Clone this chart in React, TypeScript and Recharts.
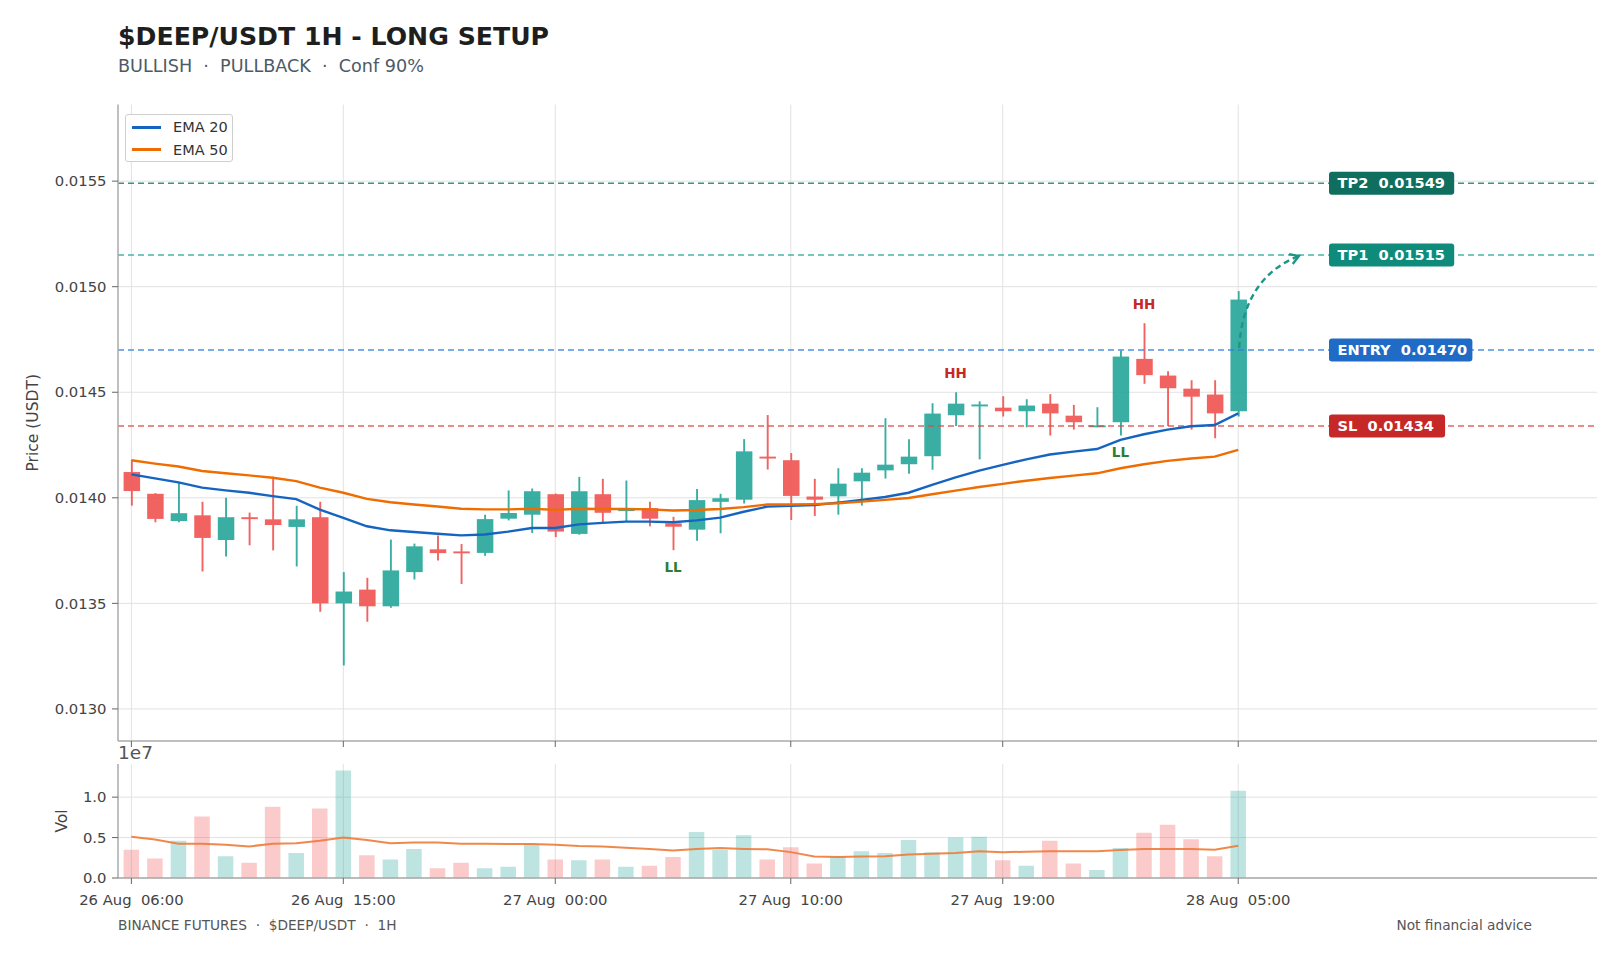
import { Bar, CartesianGrid, Cell, ComposedChart, Legend, Line, ReferenceDot, ReferenceLine, XAxis, YAxis } from 'recharts'

// 1H candles, 26 Aug 06:00 -> 28 Aug 05:00
const times = Array.from({ length: 48 }, (_, i) => {
  const h = 6 + i
  const day = 26 + Math.floor(h / 24)
  const hh = String(h % 24).padStart(2, '0')
  return `${day} Aug\u00a0\u00a0${hh}:00`
})
// empty slots to the right of the last candle
const padSlots = Array.from({ length: 14 }, (_, i) => `pad${48 + i}`)

const opens = [0.014122, 0.014019, 0.01389, 0.013917, 0.0138, 0.013908, 0.013898, 0.013862, 0.013908, 0.0135, 0.013565, 0.013486, 0.013648, 0.013756, 0.013746, 0.013739, 0.013901, 0.01392, 0.014017, 0.013829, 0.014017, 0.013942, 0.013951, 0.013879, 0.013849, 0.013981, 0.013991, 0.014195, 0.014178, 0.014006, 0.014007, 0.014078, 0.01413, 0.014159, 0.014197, 0.014391, 0.014438, 0.014427, 0.01441, 0.014446, 0.014389, 0.014338, 0.014358, 0.014658, 0.014579, 0.014517, 0.014489, 0.01441]
const highs = [0.014179, 0.014022, 0.01407, 0.013981, 0.014, 0.01393, 0.0141, 0.013962, 0.013981, 0.013648, 0.013621, 0.013802, 0.013783, 0.013821, 0.013781, 0.01392, 0.014035, 0.014044, 0.01402, 0.014099, 0.01409, 0.014082, 0.013981, 0.01391, 0.014042, 0.014019, 0.014278, 0.014392, 0.014212, 0.01409, 0.01414, 0.01414, 0.014377, 0.014277, 0.014448, 0.0145, 0.014457, 0.014481, 0.014467, 0.014491, 0.01444, 0.014429, 0.014698, 0.014827, 0.0146, 0.014557, 0.014557, 0.014979]
const lows = [0.013963, 0.013884, 0.013884, 0.013651, 0.013722, 0.013775, 0.013751, 0.013675, 0.01346, 0.013206, 0.013413, 0.013479, 0.013613, 0.013703, 0.013592, 0.013725, 0.013893, 0.013833, 0.013814, 0.013825, 0.013884, 0.01389, 0.013865, 0.013752, 0.013796, 0.013832, 0.013973, 0.014134, 0.013895, 0.013914, 0.01392, 0.013963, 0.014091, 0.014114, 0.014133, 0.01434, 0.014182, 0.014385, 0.014334, 0.014295, 0.014323, 0.014334, 0.014295, 0.01454, 0.01434, 0.014323, 0.014282, 0.014385]
const closes = [0.014032, 0.0139, 0.013927, 0.01381, 0.013908, 0.0139, 0.013871, 0.013898, 0.0135, 0.013556, 0.013486, 0.013656, 0.01377, 0.013738, 0.013738, 0.013899, 0.013928, 0.014031, 0.01384, 0.014031, 0.013929, 0.013946, 0.013901, 0.013863, 0.013989, 0.013998, 0.01422, 0.014187, 0.014009, 0.013991, 0.014067, 0.014119, 0.014157, 0.014195, 0.014399, 0.014446, 0.014442, 0.01441, 0.014437, 0.0144, 0.014358, 0.014343, 0.014669, 0.014581, 0.014519, 0.014479, 0.0144, 0.014939]

const ema20 = [0.014111, 0.014092, 0.014073, 0.014048, 0.014035, 0.014024, 0.014008, 0.013994, 0.013944, 0.013905, 0.013865, 0.013846, 0.013838, 0.01383, 0.013822, 0.013826, 0.01384, 0.013857, 0.013857, 0.013874, 0.013881, 0.013887, 0.013887, 0.013884, 0.013893, 0.013906, 0.013934, 0.013958, 0.013962, 0.013966, 0.013977, 0.01399, 0.014004, 0.014024, 0.014061, 0.014097, 0.014129, 0.014156, 0.014182, 0.014205, 0.014219, 0.014231, 0.014274, 0.014301, 0.014323, 0.014339, 0.014345, 0.0144]
const ema50 = [0.014178, 0.014162, 0.014148, 0.014127, 0.014116, 0.014106, 0.014095, 0.014079, 0.014048, 0.014024, 0.013995, 0.013979, 0.013968, 0.013959, 0.013948, 0.013945, 0.013945, 0.013948, 0.013943, 0.013948, 0.013947, 0.013947, 0.013945, 0.01394, 0.013942, 0.013947, 0.013956, 0.013968, 0.013968, 0.01397, 0.013974, 0.013982, 0.01399, 0.013999, 0.014017, 0.014034, 0.014051, 0.014066, 0.014081, 0.014094, 0.014105, 0.014116, 0.01414, 0.014159, 0.014175, 0.014186, 0.014195, 0.014227]

const volumes = [3500000, 2400000, 4600000, 7600000, 2700000, 1900000, 8800000, 3100000, 8600000, 13300000, 2800000, 2300000, 3600000, 1200000, 1900000, 1200000, 1400000, 4200000, 2300000, 2200000, 2300000, 1400000, 1500000, 2600000, 5700000, 3500000, 5300000, 2300000, 3800000, 1800000, 2700000, 3300000, 3100000, 4700000, 3200000, 5000000, 5100000, 2200000, 1500000, 4600000, 1800000, 1000000, 3700000, 5600000, 6600000, 4800000, 2700000, 10800000]
const volMa = [5100000, 4750000, 4250000, 4250000, 4100000, 3900000, 4250000, 4300000, 4600000, 5000000, 4700000, 4300000, 4400000, 4400000, 4250000, 4250000, 4200000, 4200000, 4100000, 3950000, 3900000, 3750000, 3600000, 3400000, 3600000, 3700000, 3600000, 3550000, 3200000, 2650000, 2600000, 2650000, 2700000, 2900000, 3000000, 3100000, 3300000, 3200000, 3250000, 3300000, 3300000, 3300000, 3450000, 3600000, 3600000, 3600000, 3500000, 4000000]

const priceTicks = [0.013, 0.0135, 0.014, 0.0145, 0.015, 0.0155]
const volTicks = [0, 5000000, 10000000]
const timeTicks = [times[0], times[9], times[18], times[28], times[37], times[47]]

const levelTags = ['TP2  0.01549', 'TP1  0.01515', 'ENTRY  0.01470', 'SL  0.01434']
const levelPrices = [0.01549, 0.01515, 0.0147, 0.01434]

const swingTags = ['LL', 'HH', 'LL', 'HH']
const swingIdx = [23, 35, 42, 43]

const UP = '#26a69a'
const DOWN = '#ef5350'
const levelLine = ['#1b7f6e', '#26a69a', '#2f7be0', '#dc4b48']
const levelBg = ['#0f6e5e', '#0f8b7c', '#1f6bc6', '#c62828']

const categories = [...times, ...padSlots]

const priceData = categories.map((t, i) =>
  i < times.length
    ? { t, open: opens[i], high: highs[i], low: lows[i], close: closes[i], ema20: ema20[i], ema50: ema50[i] }
    : { t },
)

const volData = categories.map((t, i) =>
  i < times.length ? { t, vol: volumes[i], ma: volMa[i], up: closes[i] >= opens[i] } : { t },
)

const Candle = (props: any) => {
  const { x, y, width, height, payload } = props
  if (payload == null || payload.high == null) return null
  const span = payload.high - payload.low
  const toY = (v: number) => y + ((payload.high - v) / span) * height
  const color = payload.close >= payload.open ? UP : DOWN
  const top = toY(Math.max(payload.open, payload.close))
  const bottom = toY(Math.min(payload.open, payload.close))
  const cx = x + width / 2
  return (
    <g opacity={0.9}>
      <line x1={cx} x2={cx} y1={y} y2={y + height} stroke={color} strokeWidth={1.9} />
      <rect x={x} y={top} width={width} height={Math.max(bottom - top, 1.9)} fill={color} />
    </g>
  )
}

const LevelTag = (props: any) => {
  const { viewBox, tag, bg } = props
  const w = tag.length * 9.1 + 16
  const x = viewBox.x + viewBox.width - 268
  const y = viewBox.y
  return (
    <g>
      <rect x={x} y={y - 11.5} width={w} height={23} rx={3} fill={bg} />
      <text x={x + 8.5} y={y + 5.2} fill="#fff" fontSize={14.6} fontWeight="bold" style={{ whiteSpace: 'pre' }}>
        {tag}
      </text>
    </g>
  )
}

const TrendArrow = (props: any) => {
  const { x1, y1, x2, y2 } = props
  const tx = x2 - 10
  const ty = y2 + 1
  const sy = y1 - 2
  const dx = tx - x1
  const dy = sy - ty
  const c1x = x1 + 0.05 * dx
  const c1y = sy - 0.5 * dy
  const c2x = x1 + 0.4 * dx
  const c2y = sy - 0.85 * dy
  const ang = Math.atan2(ty - c2y, tx - c2x)
  const wing = 10
  const a1 = ang + Math.PI - 0.55
  const a2 = ang + Math.PI + 0.55
  const arrowColor = '#1d9686'
  return (
    <g>
      <path d={`M ${x1 + 1} ${sy} C ${c1x} ${c1y} ${c2x} ${c2y} ${tx} ${ty}`} fill="none" stroke={arrowColor} strokeWidth={2.4} strokeDasharray="6 4" />
      <path
        d={`M ${tx + wing * Math.cos(a1)} ${ty + wing * Math.sin(a1)} L ${tx} ${ty} L ${tx + wing * Math.cos(a2)} ${ty + wing * Math.sin(a2)}`}
        fill="none"
        stroke={arrowColor}
        strokeWidth={2.4}
      />
    </g>
  )
}

const AxisTitle = (props: any) => {
  const { viewBox, text, px } = props
  const x = viewBox.x + px
  const cy = viewBox.y + viewBox.height / 2
  return (
    <text x={x} y={cy} transform={`rotate(-90 ${x} ${cy})`} textAnchor="middle" dominantBaseline="central" fontSize={15.5} fill="#444">
      {text}
    </text>
  )
}

const LegendBox = ({ payload }: any) => (
  <div
    style={{
      boxSizing: 'border-box',
      width: 108,
      height: 48,
      paddingTop: 1,
      background: 'rgba(255,255,255,0.9)',
      border: '1px solid #cfcfcf',
      borderRadius: 3,
      fontSize: 14.5,
      color: '#333',
    }}
  >
    {(payload || []).map((p: any) => (
      <div key={p.value} style={{ display: 'flex', alignItems: 'center', height: 22.5 }}>
        <span style={{ display: 'inline-block', width: 29, height: 2.6, background: p.color, marginLeft: 6, marginRight: 12 }} />
        <span>{p.value}</span>
      </div>
    ))}
  </div>
)

const tickStyle = { fill: '#444', fontSize: 14.8 }
const spine = { stroke: '#aaa', strokeWidth: 1.5 }

export default function App() {
  return (
    <div style={{ position: 'absolute', left: 0, top: 0, width: 1621, height: 957, background: '#fff', fontFamily: 'DejaVu Sans, sans-serif' }}>
      <div style={{ position: 'absolute', left: 0, top: 0 }}>
        <ComposedChart width={1621} height={755} data={priceData} margin={{ top: 104.5, right: 24, left: 58, bottom: 0 }}>
          <CartesianGrid stroke="#e2e2e2" syncWithTicks />
          <XAxis
            dataKey="t"
            ticks={timeTicks}
            interval={0}
            height={14}
            padding={{ left: 1.6, right: 17.3 }}
            tickFormatter={() => ''}
            axisLine={spine}
            tickLine={{ stroke: '#666' }}
            tickSize={6}
          />
          <YAxis
            width={60}
            domain={[0.012848, 0.015863]}
            allowDataOverflow
            ticks={priceTicks}
            tickFormatter={(v) => v.toFixed(4)}
            tick={tickStyle}
            tickSize={6}
            tickMargin={5.5}
            axisLine={spine}
            tickLine={{ stroke: '#666' }}
            label={<AxisTitle text="Price (USDT)" px={-25} />}
          />
          <Legend
            layout="vertical"
            align="center"
            verticalAlign="middle"
            wrapperStyle={{ left: 125, top: 114, width: 108 }}
            content={(p: any) => <LegendBox payload={p.payload} />}
          />
          {levelPrices.map((y, i) => (
            <ReferenceLine
              key={levelTags[i]}
              y={y}
              stroke={levelLine[i]}
              strokeWidth={1.5}
              strokeDasharray="6 4"
              strokeOpacity={0.85}
              label={<LevelTag tag={levelTags[i]} bg={levelBg[i]} />}
            />
          ))}
          <Bar
            dataKey={(d: any) => (d.high == null ? null : [d.low, d.high])}
            barSize={16.5}
            shape={Candle}
            legendType="none"
            isAnimationActive={false}
          />
          <Line type="linear" dataKey="ema20" name="EMA 20" stroke="#1565c0" strokeWidth={2.4} dot={false} activeDot={false} isAnimationActive={false} />
          <Line type="linear" dataKey="ema50" name="EMA 50" stroke="#ef6c00" strokeWidth={2.4} dot={false} activeDot={false} isAnimationActive={false} />
          {swingIdx.map((idx, i) => (
            <ReferenceDot
              key={`${swingTags[i]}${idx}`}
              x={times[idx]}
              y={swingTags[i] === 'HH' ? highs[idx] : lows[idx]}
              r={0}
              fill="none"
              stroke="none"
              label={{
                value: swingTags[i],
                position: swingTags[i] === 'HH' ? 'top' : 'bottom',
                offset: swingTags[i] === 'HH' ? 14 : 12,
                fill: swingTags[i] === 'HH' ? '#c62828' : '#2e7d32',
                fontSize: 13.5,
                fontWeight: 'bold',
              }}
            />
          ))}
          <ReferenceLine
            segment={[
              { x: times[47], y: levelPrices[2] },
              { x: padSlots[2], y: levelPrices[1] },
            ]}
            shape={TrendArrow}
            {...({ zIndex: 700 } as any)}
          />
        </ComposedChart>
      </div>

      <div style={{ position: 'absolute', left: 0, top: 750 }}>
        <ComposedChart width={1621} height={178} data={volData} margin={{ top: 14, right: 24, left: 58, bottom: 20 }}>
          <CartesianGrid stroke="#e2e2e2" syncWithTicks />
          <XAxis
            dataKey="t"
            ticks={timeTicks}
            interval={0}
            height={30}
            padding={{ left: 1.6, right: 17.3 }}
            tick={tickStyle}
            tickMargin={10}
            tickSize={6}
            axisLine={spine}
            tickLine={{ stroke: '#666' }}
          />
          <YAxis
            width={60}
            domain={[0, 14100000]}
            allowDataOverflow
            ticks={volTicks}
            tickFormatter={(v) => (v / 10000000).toFixed(1)}
            tick={tickStyle}
            tickSize={6}
            tickMargin={5.5}
            axisLine={spine}
            tickLine={{ stroke: '#666' }}
            label={<AxisTitle text="Vol" px={4} />}
          />
          <Bar dataKey="vol" barSize={15.5} isAnimationActive={false}>
            {volData.map((d: any) => (
              <Cell key={d.t} fill={d.up ? UP : DOWN} fillOpacity={0.3} />
            ))}
          </Bar>
          <Line type="linear" dataKey="ma" stroke="#ee7b38" strokeOpacity={0.9} strokeWidth={2} dot={false} activeDot={false} isAnimationActive={false} />
        </ComposedChart>
      </div>

      <svg width={1621} height={957} style={{ position: 'absolute', left: 0, top: 0, pointerEvents: 'none' }}>
        <text x={118} y={44.5} fontSize={25.2} fontWeight="bold" fill="#1e1e1e">
          $DEEP/USDT 1H - LONG SETUP
        </text>
        <text x={118} y={71.5} fontSize={17.6} fill="#4d5a66" style={{ whiteSpace: 'pre' }}>
          BULLISH  ·  PULLBACK  ·  Conf 90%
        </text>
        <text x={118} y={759} fontSize={18.5} fill="#555">
          1e7
        </text>
        <text x={118} y={930} fontSize={13.7} fill="#555" style={{ whiteSpace: 'pre' }}>
          BINANCE FUTURES  ·  $DEEP/USDT  ·  1H
        </text>
        <text x={1532} y={930} fontSize={13.7} fill="#555" textAnchor="end">
          Not financial advice
        </text>
      </svg>
    </div>
  )
}
